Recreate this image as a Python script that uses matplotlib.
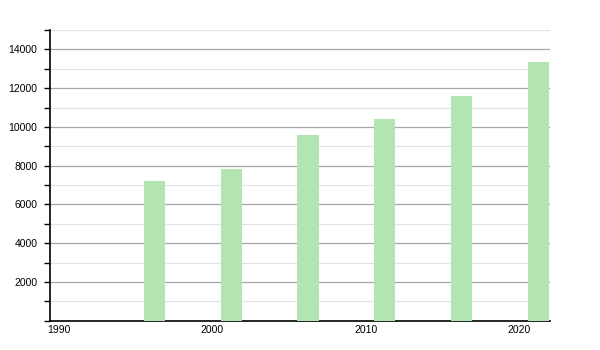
import matplotlib
matplotlib.use("Agg")
import matplotlib.pyplot as plt
from matplotlib.ticker import MultipleLocator

years = [1996, 2001, 2006, 2011, 2016, 2021]
population = [7225, 7845, 9560, 10430, 11580, 13340]
xticks = [1990, 2000, 2010, 2020]
yticks = [2000, 4000, 6000, 8000, 10000, 12000, 14000]

plt.rcParams['font.family'] = ['Liberation Sans', 'DejaVu Sans']

fig = plt.figure(figsize=(6, 3.5), dpi=100)
ax = fig.add_axes([50/600, (350-320.8)/350, 500/600, (320.8-30)/350])

ax.bar([y + 0.25 for y in years], population, width=1.38, color='#b2e5b2', zorder=3)

ax.set_xlim(1989.45, 2022)
ax.set_ylim(0, 15000)
ax.set_xticks(xticks)
ax.set_xticklabels([str(t) for t in xticks])
ax.set_yticks(yticks)
ax.set_yticklabels([str(t) for t in yticks])
ax.yaxis.set_minor_locator(MultipleLocator(1000))

ax.grid(axis='y', which='major', color='#a8a8a8', linewidth=0.9, zorder=0)
ax.grid(axis='y', which='minor', color='#e2e2e2', linewidth=0.9, zorder=0)

for s in ['top', 'right']:
    ax.spines[s].set_visible(False)
ax.spines['left'].set_color('black')
ax.spines['bottom'].set_color('black')
ax.spines['left'].set_linewidth(1.2)
ax.spines['bottom'].set_linewidth(1.2)

ax.tick_params(axis='y', which='both', length=4, width=1, labelsize=7.5, pad=5)
ax.tick_params(axis='x', which='both', length=0, labelsize=7.5, pad=3)

fig.savefig('out.png', dpi=100)
